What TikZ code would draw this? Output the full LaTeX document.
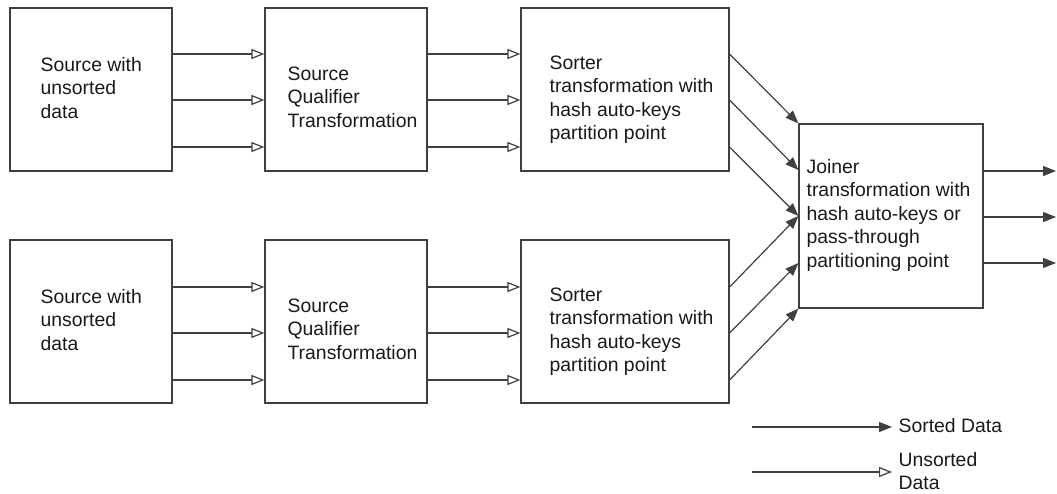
\documentclass[tikz,border=0pt]{standalone}
\usepackage{fontspec}
\setmainfont{Liberation Sans}
\usetikzlibrary{arrows.meta}

\tikzset{
    sorted/.style={-{Triangle[length=13pt, width=10pt]}},
    unsorted/.style={-{Triangle[open, length=13pt, width=10pt]}},
}

\begin{document}
\begin{tikzpicture}[x=1pt, y=-1pt, line width=1.2pt, color=black!75, text=black!90,
                    font=\fontsize{19.4}{23.5}\selectfont]
    \useasboundingbox (0, 0) rectangle (1057, 493); % bounding box

    % boxes
    \begin{scope}[every node/.style={draw, rectangle, inner sep=0pt, minimum height=163pt}]
        \node at ( 91,  89.5) [minimum width=162pt] (src1) {};
        \node at (346,  89.5) [minimum width=162pt] (sq1)  {};
        \node at (625,  89.5) [minimum width=208pt] (st1)  {};
        \node at ( 91, 321.5) [minimum width=162pt] (src2) {};
        \node at (346, 321.5) [minimum width=162pt] (sq2)  {};
        \node at (625, 321.5) [minimum width=208pt] (st2)  {};

        % joiner
        \node at (891, 216) [minimum width=184pt, minimum height=184pt] (jn) {};
    \end{scope}

    % box texts
    \begin{scope}[every node/.style={anchor=west, align=left, inner sep=0pt}]
        \node at ( 40,  88)   (src1txt) {Source with\\unsorted\\data};
        \node at (287,  97)   (sq1txt)  {Source\\Qualifier\\Transformation};
        \node at (549,  99.5) (st1txt)  {Sorter\\transformation with\\hash auto-keys\\partition point};
        \node at ( 40, 320)   (src2txt) {Source with\\unsorted\\data};
        \node at (287, 329)   (sq2txt)  {Source\\Qualifier\\Transformation};
        \node at (549, 331.5) (st2txt)  {Sorter\\transformation with\\hash auto-keys\\partition point};
        \node at (806, 215)   (jntxt)   {Joiner\\transformation with\\hash auto-keys or\\pass-through\\partitioning point};
    \end{scope}

    % unsorted data
    \begin{scope}[every path/.style={unsorted}]
        \draw (src1.east |- 0,  54) -- (sq1.west |- 0,  54);
        \draw (src1.east |- 0, 100) -- (sq1.west |- 0, 100);
        \draw (src1.east |- 0, 147) -- (sq1.west |- 0, 147);
        \draw (src2.east |- 0, 287) -- (sq2.west |- 0, 287);
        \draw (src2.east |- 0, 333) -- (sq2.west |- 0, 333);
        \draw (src2.east |- 0, 380) -- (sq2.west |- 0, 380);

        \draw ( sq1.east |- 0,  54) -- (st1.west |- 0,  54);
        \draw ( sq1.east |- 0, 100) -- (st1.west |- 0, 100);
        \draw ( sq1.east |- 0, 147) -- (st1.west |- 0, 147);
        \draw ( sq2.east |- 0, 287) -- (st2.west |- 0, 287);
        \draw ( sq2.east |- 0, 333) -- (st2.west |- 0, 333);
        \draw ( sq2.east |- 0, 380) -- (st2.west |- 0, 380);
    \end{scope}

    % sorted data
    \coordinate (out1) at (1056, 171);
    \coordinate (out2) at (1056, 217);
    \coordinate (out3) at (1056, 263);
    \begin{scope}[every path/.style={sorted}]
        \draw (st1.east |- 0,  54) -- (jn.north west);
        \draw (st1.east |- 0, 100) -- (jn.west |- 0, 170);
        \draw (st1.east |- 0, 147) -- (jn.west);
        \draw (st2.east |- 0, 287) -- (jn.west);
        \draw (st2.east |- 0, 333) -- (jn.west |- 0, 263);
        \draw (st2.east |- 0, 380) -- (jn.south west);

        \draw (jn.east |- out1) -- (out1);
        \draw (jn.east |- out2) -- (out2);
        \draw (jn.east |- out3) -- (out3);
    \end{scope}

    % key
    \coordinate (keys) at (752, 427);
    \coordinate (keyu) at (752, 472);
    \node at (892, 426) [anchor=west, inner xsep=6pt, inner ysep=0pt] (keysorted)   {Sorted Data};
    \node at (892, 471) [anchor=west, inner xsep=6pt, inner ysep=0pt, align=left] (keyunsorted) {Unsorted\\Data};
    \draw [sorted]   (keys) -- (keys -| keysorted.west);
    \draw [unsorted] (keyu) -- (keyu -| keyunsorted.west);
\end{tikzpicture}
\end{document}
